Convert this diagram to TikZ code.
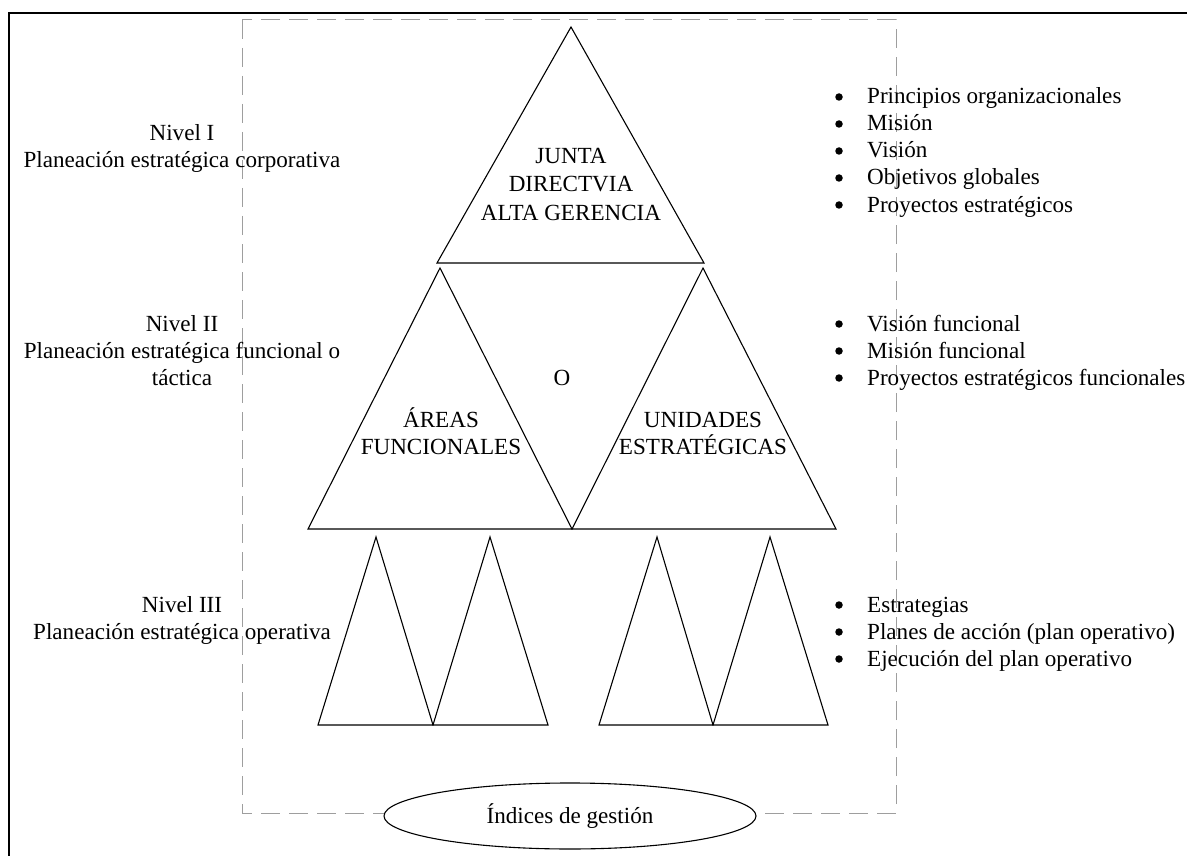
\documentclass[tikz,border=0pt]{standalone}
\usepackage{fontspec}
\setmainfont{Liberation Serif}
\usetikzlibrary{shapes.geometric}
\begin{document}
\begin{tikzpicture}[x=1pt,y=-1pt,
  lbl/.style={anchor=base,inner sep=0pt,font=\fontsize{23.1}{27}\selectfont},
  item/.style={anchor=base west,inner sep=0pt,font=\fontsize{23.1}{27}\selectfont},
  dot/.style={circle,fill=black,inner sep=0pt,minimum size=7.5pt},
  tri/.style={draw=black,line width=1.1pt,fill=white,line join=miter},
  frame/.style={draw=black,line width=2pt},
  zone/.style={draw=black!38,line width=1pt,dash pattern=on 19pt off 9pt},
  ovalbox/.style={draw=black,line width=1.1pt,fill=white}]
\useasboundingbox (0,0) rectangle (1187,856);

% outer frame (right and bottom sides fall outside the page)
\draw[frame] (9,1000) -- (9,13) -- (1300,13);

% dashed planning zone
\draw[zone] (242,20) rectangle (896,813);

% Nivel I
\coordinate (t1a) at (571,27);
\coordinate (t1l) at (437,263);
\coordinate (t1r) at (704,263);
\draw[tri] (t1a) -- (t1l) -- (t1r) -- cycle;

% Nivel II
\coordinate (t2a) at (440,268);
\coordinate (t2l) at (308,529);
\coordinate (t2m) at (572,529);
\coordinate (t3a) at (703,268);
\coordinate (t3r) at (836,529);
\draw[tri] (t2a) -- (t2l) -- (t2m) -- cycle;
\draw[tri] (t3a) -- (t2m) -- (t3r) -- cycle;

% Nivel III
\foreach \l/\a/\r [count=\i] in {318/376/433, 433/490/548, 599/657/713, 713/770/828}{
  \coordinate (s\i a) at (\a,537);
  \coordinate (s\i l) at (\l,725);
  \coordinate (s\i r) at (\r,725);
  \draw[tri] (s\i a) -- (s\i l) -- (s\i r) -- cycle;
}

% indicators
\node[ovalbox,ellipse,minimum width=372pt,minimum height=66pt] (idx) at (570,816) {};
\node[lbl] (idxt) at (570,823) {Índices de gestión};

% triangle captions
\node[lbl] (jd1) at (571,164) {JUNTA};
\node[lbl] (jd2) at (571,192) {DIRECTVIA};
\node[lbl] (jd3) at (571,220) {ALTA GERENCIA};
\node[lbl] (or) at (562,385) {O};
\node[lbl] (af1) at (441,427) {ÁREAS};
\node[lbl] (af2) at (441,454) {FUNCIONALES};
\node[lbl] (ue1) at (703,427) {UNIDADES};
\node[lbl] (ue2) at (703,454) {ESTRATÉGICAS};

% level titles
\node[lbl] (n1a) at (182,141) {Nivel I};
\node[lbl] (n1b) at (182,168) {Planeación estratégica corporativa};
\node[lbl] (n2a) at (182,331) {Nivel II};
\node[lbl] (n2b) at (182,358) {Planeación estratégica funcional o};
\node[lbl] (n2c) at (182,385) {táctica};
\node[lbl] (n3a) at (182,612) {Nivel III};
\node[lbl] (n3b) at (182,639) {Planeación estratégica operativa};

% bullet lists
\foreach \t/\y [count=\i] in {Principios organizacionales/104, Misión/131, Visión/158, Objetivos globales/185, Proyectos estratégicos/212,
  Visión funcional/331, Misión funcional/358, Proyectos estratégicos funcionales/385,
  Estrategias/612, Planes de acción (plan operativo)/639, Ejecución del plan operativo/666}{
  \node[dot] (b\i) at (839,\y-7) {};
  \node[item] (i\i) at (867,\y) {\t};
}
\end{tikzpicture}
\end{document}
